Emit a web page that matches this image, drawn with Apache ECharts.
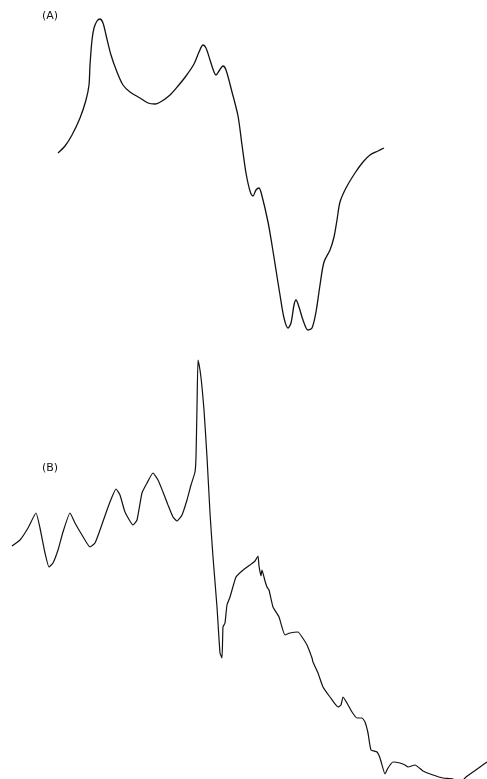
<!DOCTYPE html>
<html>
<head>
<meta charset="UTF-8">
<title>Spectra (A) and (B)</title>
<script src="https://cdn.jsdelivr.net/npm/echarts@6/dist/echarts.min.js"></script>
<style>
  html, body { margin: 0; padding: 0; background: #fff; }
  #chart { width: 487px; height: 779px; }
</style>
</head>
<body>
<div id="chart"></div>
<script>
// trace (A): [x, y], y grows downward
var traceA = [
  [58,153],[65,146],[72,135],[80,118],[86,100],[89,85],[90,65],[92,40],[94,28],[97,21],
  [100,19],[103,23],[106,35],[111,55],[117,72],[123,85],[130,92],[140,98],[148,103],[155,104],
  [162,101],[170,95],[178,86],[186,76],[194,64],[199,52],[203,45],[206,48],[210,60],[214,72],
  [216,75],[219,71],[223,66],[226,70],[232,92],[238,116],[242,145],[246,173],[250,191],[253,196],
  [256,190],[259,188],[262,196],[268,222],[272,245],[276,270],[280,295],[284,318],[288,328],[291,323],
  [294,305],[296,300],[299,307],[303,320],[308,330],[312,328],[316,312],[320,285],[324,262],[330,250],
  [334,237],[337,220],[340,202],[346,188],[355,173],[363,162],[370,155],[378,151],[384,148]
];

// trace (B)
var traceB = [
  [12,546],[20,540],[28,528],[36,513],[40,528],[45,553],[49,567],[53,563],[58,550],[63,532],
  [70,513],[75,523],[82,535],[90,547],[95,543],[100,530],[107,510],[112,497],[116,489],[120,495],
  [125,512],[133,525],[137,520],[142,493],[147,483],[153,473],[158,480],[163,492],[168,505],[173,517],
  [177,521],[182,515],[187,500],[191,485],[195,472],[196,457],[197,407],[198,360],[200,370],[202,387],
  [204,410],[207,457],[210,513],[213,557],[217,607],[220,653],[222,658],[223,627],[225,623],[227,605],
  [230,597],[236,577],[242,571],[250,565],[255,561],[258,556],[259,566],[261,576],[262,570],[265,581],
  [267,587],[269,590],[273,607],[279,617],[285,635],[290,633],[298,632],[302,637],[307,645],[312,658],
  [313,662],[318,673],[323,687],[330,697],[338,707],[341,705],[343,697],[347,703],[352,712],[357,718],
  [362,718],[365,722],[368,733],[371,750],[377,752],[380,758],[385,774],[388,768],[393,762],[400,763],
  [405,765],[408,767],[415,765],[423,771],[433,775],[443,778],[453,779],[459,784],[466,777],[473,772],
  [480,767],[487,762]
];

var labels = ['(A)', '(B)'];

var chart = echarts.init(document.getElementById('chart'));
chart.setOption({
  animation: false,
  grid: { left: 0, right: 0, top: 0, bottom: 0 },
  xAxis: { type: 'value', min: 0, max: 487, show: false },
  yAxis: { type: 'value', min: 0, max: 779, inverse: true, show: false },
  graphic: [
    { type: 'text', left: 42, top: 11, style: { text: labels[0], font: '11px "DejaVu Sans"', fill: '#111' } },
    { type: 'text', left: 42, top: 463, style: { text: labels[1], font: '11px "DejaVu Sans"', fill: '#111' } }
  ],
  series: [
    {
      type: 'line', data: traceA, showSymbol: false, smooth: 0.3, clip: true,
      lineStyle: { color: '#111', width: 1.3 }
    },
    {
      type: 'line', data: traceB, showSymbol: false, smooth: 0.15, clip: true,
      lineStyle: { color: '#111', width: 1.2 }
    }
  ]
});
</script>
</body>
</html>
